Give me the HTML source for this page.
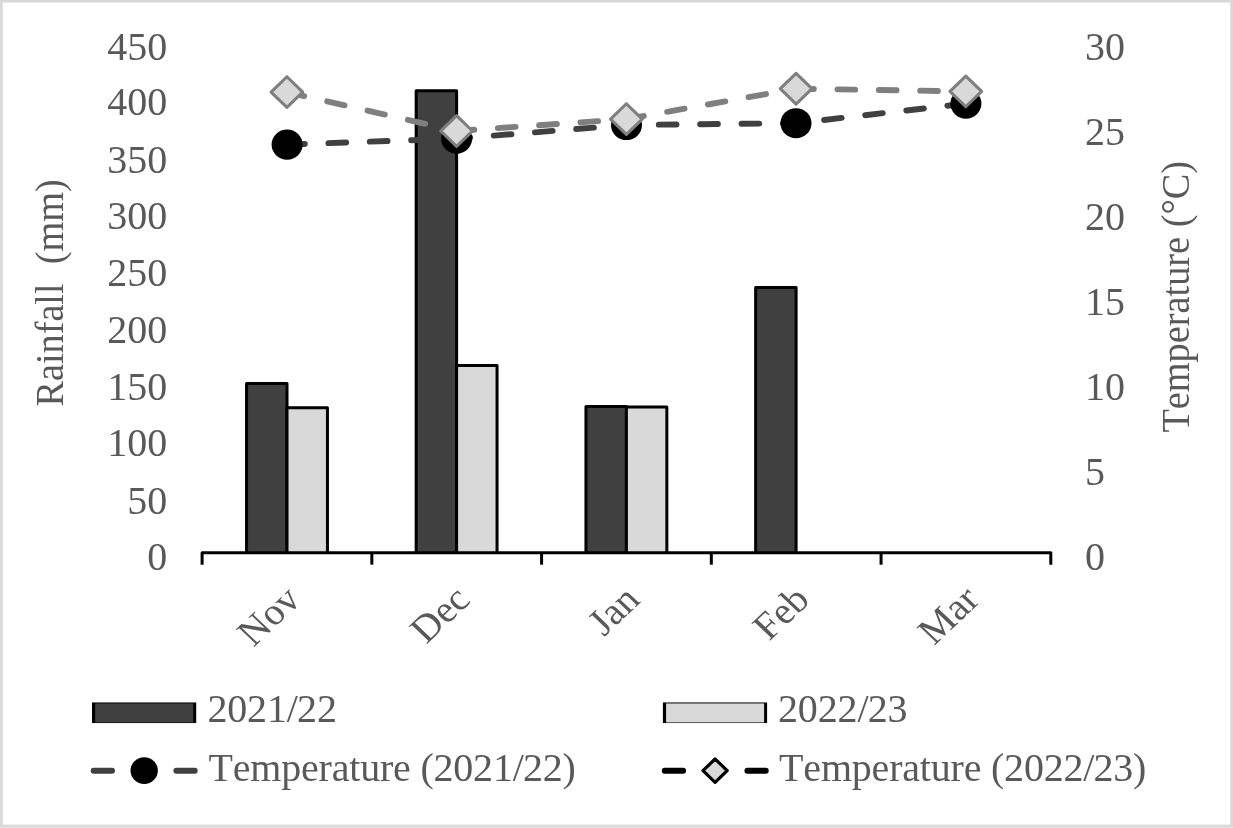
<!DOCTYPE html>
<html lang="en"><head><meta charset="utf-8"><title>Rainfall and temperature chart</title>
<style>html,body{margin:0;padding:0;background:#fff}svg{display:block}text{font-kerning:none;font-family:"Liberation Serif","Times New Roman",serif;font-size:40px;fill:#595959}</style>
</head><body>
<svg width="1233" height="828" viewBox="0 0 1233 828">
<rect x="0" y="0" width="1233" height="828" fill="#d9d9d9"/>
<rect x="0" y="827" width="1233" height="1" fill="#e4e4e4"/>
<rect x="2.8" y="2.55" width="1227.40" height="822.05" fill="#ffffff"/>
<g stroke="#000" stroke-width="3.00" stroke-linejoin="round" stroke-linecap="butt">
<path d="M246.55 552.80 V383.55 H287.00 V552.80" fill="#404040"/>
<path d="M287.00 552.80 V407.85 H327.45 V552.80" fill="#d9d9d9"/>
<path d="M416.15 552.80 V90.65 H456.60 V552.80" fill="#404040"/>
<path d="M456.60 552.80 V365.40 H497.05 V552.80" fill="#d9d9d9"/>
<path d="M585.95 552.80 V406.50 H626.40 V552.80" fill="#404040"/>
<path d="M626.40 552.80 V407.10 H666.85 V552.80" fill="#d9d9d9"/>
<path d="M755.65 552.80 V287.40 H796.10 V552.80" fill="#404040"/>
</g>
<g stroke="#000" stroke-width="3.00" fill="none" stroke-linecap="butt" stroke-linejoin="round">
<path d="M202.10 564.7 V552.80 H1050.80 V564.7"/>
<path d="M371.84 552.80 V564.7"/>
<path d="M541.58 552.80 V564.7"/>
<path d="M711.32 552.80 V564.7"/>
<path d="M881.06 552.80 V564.7"/>
</g>
<polyline points="287.10,144.60 456.60,138.60 626.50,125.00 796.00,123.20 965.90,103.60" fill="none" stroke="#404040" stroke-width="5.90" stroke-dasharray="17.73 23.64" stroke-linecap="round" stroke-linejoin="round"/>
<ellipse cx="287.10" cy="144.60" rx="15.5" ry="15.05" fill="#000"/>
<ellipse cx="456.60" cy="138.60" rx="15.5" ry="15.05" fill="#000"/>
<ellipse cx="626.50" cy="125.00" rx="15.5" ry="15.05" fill="#000"/>
<ellipse cx="796.00" cy="123.20" rx="15.5" ry="15.05" fill="#000"/>
<ellipse cx="965.90" cy="103.60" rx="15.5" ry="15.05" fill="#000"/>
<g fill="none" stroke="#7f7f7f" stroke-width="5.90" stroke-dasharray="17.73 23.64" stroke-linecap="round">
<line x1="286.90" y1="92.10" x2="456.60" y2="131.00"/>
<line x1="456.60" y1="131.00" x2="626.40" y2="119.10"/>
<line x1="626.40" y1="119.10" x2="796.10" y2="88.70"/>
<line x1="796.10" y1="88.70" x2="965.80" y2="91.40"/>
</g>
<path d="M286.90 76.75 L302.75 92.10 L286.90 107.45 L271.05 92.10 Z" fill="#d9d9d9" stroke="#7f7f7f" stroke-width="3.1" stroke-linejoin="round"/>
<path d="M456.60 115.65 L472.45 131.00 L456.60 146.35 L440.75 131.00 Z" fill="#d9d9d9" stroke="#7f7f7f" stroke-width="3.1" stroke-linejoin="round"/>
<path d="M626.40 103.75 L642.25 119.10 L626.40 134.45 L610.55 119.10 Z" fill="#d9d9d9" stroke="#7f7f7f" stroke-width="3.1" stroke-linejoin="round"/>
<path d="M796.10 73.35 L811.95 88.70 L796.10 104.05 L780.25 88.70 Z" fill="#d9d9d9" stroke="#7f7f7f" stroke-width="3.1" stroke-linejoin="round"/>
<path d="M965.80 76.05 L981.65 91.40 L965.80 106.75 L949.95 91.40 Z" fill="#d9d9d9" stroke="#7f7f7f" stroke-width="3.1" stroke-linejoin="round"/>
<text transform="translate(167.2 569.65) scale(1 1.015)" text-anchor="end">0</text>
<text transform="translate(167.2 513.75) scale(1 1.015)" text-anchor="end">50</text>
<text transform="translate(167.2 456.45) scale(1 1.015)" text-anchor="end">100</text>
<text transform="translate(167.2 399.65) scale(1 1.015)" text-anchor="end">150</text>
<text transform="translate(167.2 342.65) scale(1 1.015)" text-anchor="end">200</text>
<text transform="translate(167.2 286.45) scale(1 1.015)" text-anchor="end">250</text>
<text transform="translate(167.2 229.45) scale(1 1.015)" text-anchor="end">300</text>
<text transform="translate(167.2 172.65) scale(1 1.015)" text-anchor="end">350</text>
<text transform="translate(167.2 115.45) scale(1 1.015)" text-anchor="end">400</text>
<text transform="translate(167.2 59.65) scale(1 1.015)" text-anchor="end">450</text>
<text transform="translate(1085.0 569.65) scale(1 1.015)">0</text>
<text transform="translate(1085.0 484.65) scale(1 1.015)">5</text>
<text transform="translate(1085.0 399.65) scale(1 1.015)">10</text>
<text transform="translate(1085.0 314.65) scale(1 1.015)">15</text>
<text transform="translate(1085.0 229.65) scale(1 1.015)">20</text>
<text transform="translate(1085.0 144.65) scale(1 1.015)">25</text>
<text transform="translate(1085.0 59.65) scale(1 1.015)">30</text>
<text transform="translate(62.8 406.6) rotate(-90) scale(0.957 1)" xml:space="preserve" style="white-space:pre">Rainfall  (mm)</text>
<text transform="translate(1189 432.6) rotate(-90) scale(0.958 1)">Temperature (°C)</text>
<text transform="translate(302.30 601.50) scale(1 0.95) rotate(-45)" text-anchor="end">Nov</text>
<text transform="translate(471.90 601.50) scale(1 0.95) rotate(-45)" text-anchor="end">Dec</text>
<text transform="translate(641.70 601.50) scale(1 0.95) rotate(-45)" text-anchor="end">Jan</text>
<text transform="translate(811.40 601.50) scale(1 0.95) rotate(-45)" text-anchor="end">Feb</text>
<text transform="translate(981.10 601.50) scale(1 0.95) rotate(-45)" text-anchor="end">Mar</text>
<rect x="92.00" y="702.45" width="104.2" height="20.6" fill="#000"/>
<rect x="95.20" y="703.45" width="98.00" height="19.0" fill="#404040"/>
<rect x="662.90" y="702.45" width="104.2" height="20.6" fill="#000"/>
<rect x="666.10" y="703.45" width="98.00" height="19.0" fill="#d9d9d9"/>
<text transform="translate(207.4 722.3) scale(1 1.015)" letter-spacing="-0.14">2021/<tspan dx="-0.7">22</tspan></text>
<text transform="translate(778.0 722.3) scale(1 1.015)" letter-spacing="-0.14">2022/<tspan dx="-0.7">23</tspan></text>
<line x1="93.65" y1="770.7" x2="195" y2="770.7" stroke="#404040" stroke-width="5.90" stroke-dasharray="18.4 22.95" stroke-linecap="round"/>
<ellipse cx="144.2" cy="770.6" rx="13.7" ry="13.3" fill="#000"/>
<line x1="664.7" y1="770.7" x2="766" y2="770.7" stroke="#000" stroke-width="5.90" stroke-dasharray="18.4 22.95" stroke-linecap="round"/>
<path d="M715.10 759.00 L727.20 770.65 L715.10 782.30 L703.00 770.65 Z" fill="#d9d9d9" stroke="#000" stroke-width="3.2" stroke-linejoin="round"/>
<text transform="translate(208.5 781) scale(1 1.015)" letter-spacing="-0.2">Temperature (2021/<tspan dx="-0.7">22)</tspan></text>
<text transform="translate(779.1 781) scale(1 1.015)" letter-spacing="-0.2">Temperature (2022/<tspan dx="-0.7">23)</tspan></text>
</svg></body></html>
